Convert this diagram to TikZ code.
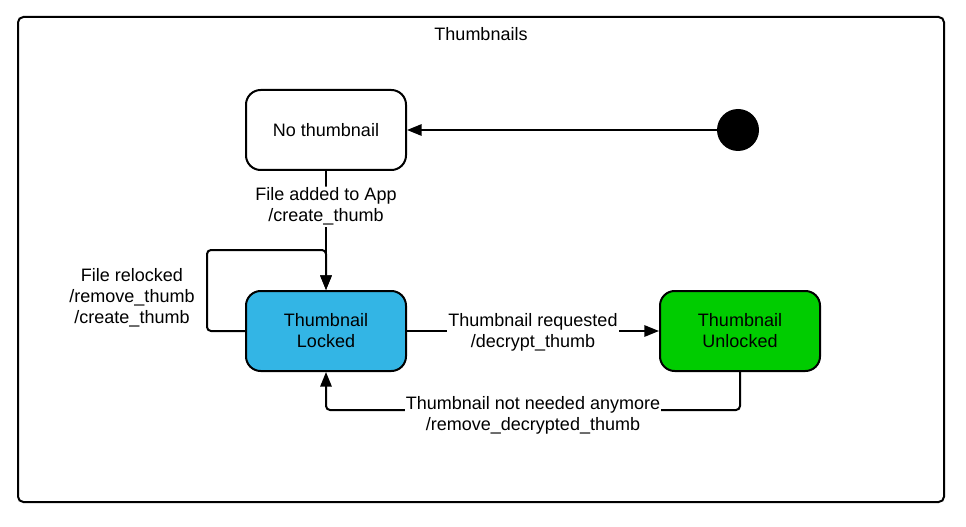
\documentclass[tikz,border=0pt]{standalone}
\usepackage{fontspec}
\setmainfont{Liberation Sans}
\usetikzlibrary{arrows.meta}
\definecolor{lockblue}{RGB}{51,181,229}
\definecolor{unlockgreen}{RGB}{0,204,0}
\tikzset{
  state/.style={draw, line width=1.5pt, rounded corners=11pt, minimum width=120pt, minimum height=60pt, align=center},
  trans/.style={line width=1.5pt, rounded corners=3pt, -{Triangle[length=11pt,width=8.5pt]}},
  lbl/.style={fill=white, inner sep=1pt, align=center}
}
\begin{document}
\begin{tikzpicture}[x=0.75pt, y=-0.75pt, font=\fontsize{13.5}{15.8}\selectfont]
  \useasboundingbox (0,0) rectangle (966,527);
  % frame
  \draw[line width=1.5pt, rounded corners=4pt] (18,17) rectangle (944,502);
  \node (title) at (481,34) {Thumbnails};
  % states
  \node[state] (nothumb) at (326,130) {No thumbnail};
  \node[state, fill=lockblue] (locked) at (326,331) {Thumbnail\\Locked};
  \node[state, fill=unlockgreen] (unlocked) at (740,331) {Thumbnail\\Unlocked};
  \node[circle, fill=black, minimum size=31.5pt, inner sep=0pt] (init) at (738,130) {};
  \coordinate (loop) at (207,250);
  \coordinate (back) at (533,410);
  % transitions
  \draw[trans] (init) -- (nothumb);
  \draw[trans] (nothumb) -- node[lbl, pos=.3] {File added to App\\/create\_thumb} (locked);
  \draw[trans] (locked.west) -| (loop) -| (locked.north);
  \node[lbl] (relock) at (132,298) {File relocked\\/remove\_thumb\\/create\_thumb};
  \draw[trans] (locked) -- node[lbl, yshift=-1] {Thumbnail requested\\/decrypt\_thumb} (unlocked);
  \draw[trans] (unlocked.south) |- (back) -| (locked.south);
  \node[lbl] (notneeded) at ([yshift=-4]back) {Thumbnail not needed anymore\\/remove\_decrypted\_thumb};
\end{tikzpicture}
\end{document}
